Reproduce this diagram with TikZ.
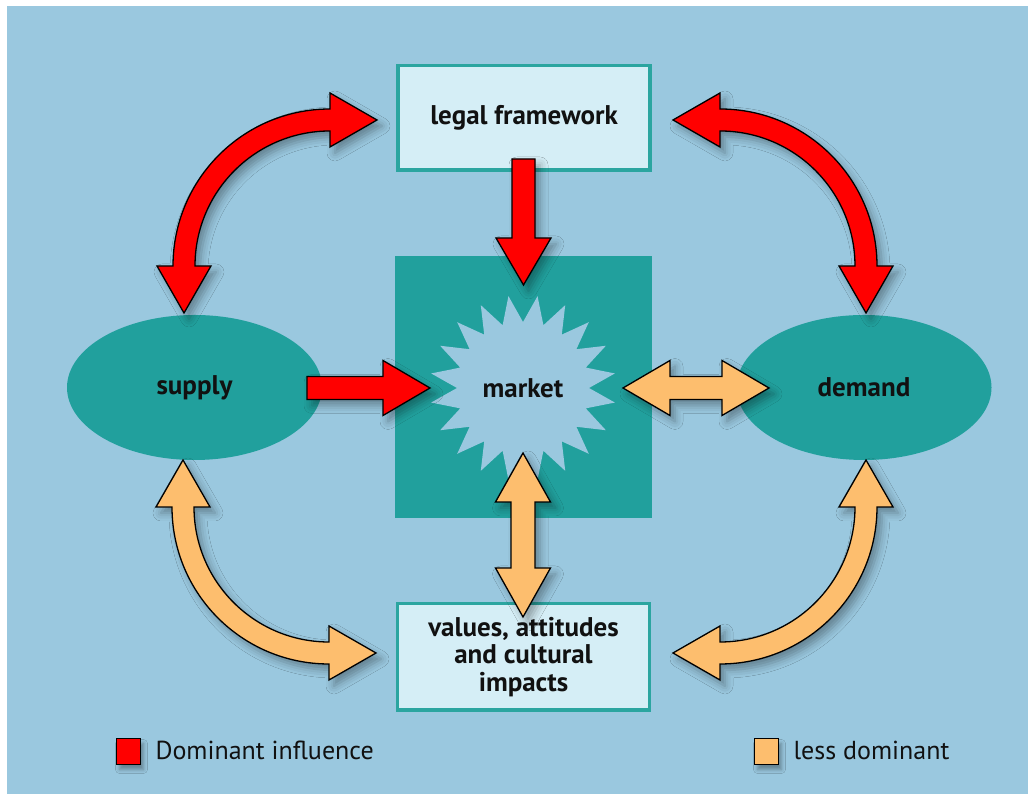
\documentclass[tikz,border=0pt]{standalone}
\usepackage{fontspec}
\setmainfont{PT Sans}
\usetikzlibrary{shadows.blur,shapes.geometric}
\definecolor{bgblue}{HTML}{9AC8DF}
\definecolor{teal}{HTML}{21A09D}
\definecolor{boxteal}{HTML}{2BA5A0}
\definecolor{boxfill}{HTML}{D5EEF6}
\definecolor{arrred}{HTML}{FF0000}
\definecolor{arrorange}{HTML}{FDBE6E}
\definecolor{textblack}{HTML}{111111}
\begin{document}
\begin{tikzpicture}[x=1pt,y=1pt,
  arr/.style={draw=black, line width=1.3pt, line join=miter,
    blur shadow={shadow xshift=5pt, shadow yshift=-6pt, shadow blur radius=8pt, shadow opacity=35}},
  redarr/.style={arr, fill=arrred},
  orarr/.style={arr, fill=arrorange},
  lbl/.style={font=\fontsize{27}{27.5}\selectfont\bfseries, text=textblack, align=center},
  infobox/.style={draw=boxteal, line width=3.5pt, fill=boxfill, minimum width=252pt, inner sep=0pt},
  ell/.style={ellipse, fill=teal, minimum width=255pt, minimum height=145pt, inner sep=0pt},
  legtext/.style={font=\fontsize{26}{28}\selectfont, text=textblack, anchor=west},
  legbox/.style={draw=black, line width=1pt, minimum width=24pt, minimum height=26pt, inner sep=0pt,
    blur shadow={shadow xshift=3pt, shadow yshift=-5pt, shadow blur radius=4pt, shadow opacity=35}}
]
\useasboundingbox (0,0) rectangle (1028,794);
\fill[white] (0,0) rectangle (1028,794);
\fill[bgblue] (7,0) rectangle (1028,788);

% central teal square
\fill[teal] (395,276) rectangle (652,538);
% starburst
\begin{scope}[shift={(523,406)}]
  \fill[bgblue] (9:93) \foreach \k in {0,...,19} { -- ({9+18*\k}:93) -- ({18+18*\k}:66) } -- cycle;
\end{scope}
\node[lbl] (market) at (523,406) {market};

% ellipses
\node[ell, lbl] (supply) at (194.5,406.5) {supply};
\node[ell, lbl] (demand) at (864,406.5) {demand};

% boxes
\node[infobox, lbl, minimum height=104.5pt] (legal) at (524,676) {legal framework};
\node[infobox, lbl, minimum height=106.5pt] (values) at (523.5,137) {values, attitudes\\and cultural\\impacts};

% curved arrows
\path[redarr] (184,481) -- (157,528) -- (173,528) arc[start angle=180, end angle=90, radius=157pt]
  -- (330,701) -- (377,674) -- (330,647) -- (330,663) arc[start angle=90, end angle=180, radius=135pt]
  -- (211,528) -- cycle;
\path[redarr] (673,674) -- (720,701) -- (720,685) arc[start angle=90, end angle=0, radius=157pt]
  -- (893,528) -- (866,481) -- (839,528) -- (855,528) arc[start angle=0, end angle=90, radius=135pt]
  -- (720,647) -- cycle;
\path[orarr] (183,334) -- (156,287) -- (172,287) arc[start angle=180, end angle=270, radius=157pt]
  -- (329,114) -- (376,141) -- (329,168) -- (329,152) arc[start angle=270, end angle=180, radius=135pt]
  -- (210,287) -- cycle;
\path[orarr] (673,141) -- (720,168) -- (720,152) arc[start angle=270, end angle=360, radius=135pt]
  -- (839,287) -- (866,334) -- (893,287) -- (877,287) arc[start angle=0, end angle=-90, radius=157pt]
  -- (720,114) -- cycle;

% straight arrows
\path[redarr] (307,394.5) -- (383,394.5) -- (383,378.5) -- (430,406) -- (383,433.5) -- (383,417.5) -- (307,417.5) -- cycle;
\path[orarr] (623,406) -- (670,433.5) -- (670,417.5) -- (722,417.5) -- (722,433.5) -- (769,406)
  -- (722,378.5) -- (722,394.5) -- (670,394.5) -- (670,378.5) -- cycle;
\path[redarr] (512,635) -- (535,635) -- (535,556) -- (551,556) -- (523.5,509) -- (496,556) -- (512,556) -- cycle;
\path[orarr] (523,341) -- (550.5,292) -- (535,292) -- (535,226) -- (550.5,226) -- (523,177)
  -- (495.5,226) -- (511,226) -- (511,292) -- (495.5,292) -- cycle;

% legend
\node[legbox, fill=arrred] (lgred) at (128.5,42.5) {};
\node[legtext] (lgredt) at (152,44) {Dominant influence};
\node[legbox, fill=arrorange] (lgor) at (766.5,42.5) {};
\node[legtext] (lgort) at (790,44) {less dominant};
\end{tikzpicture}
\end{document}
